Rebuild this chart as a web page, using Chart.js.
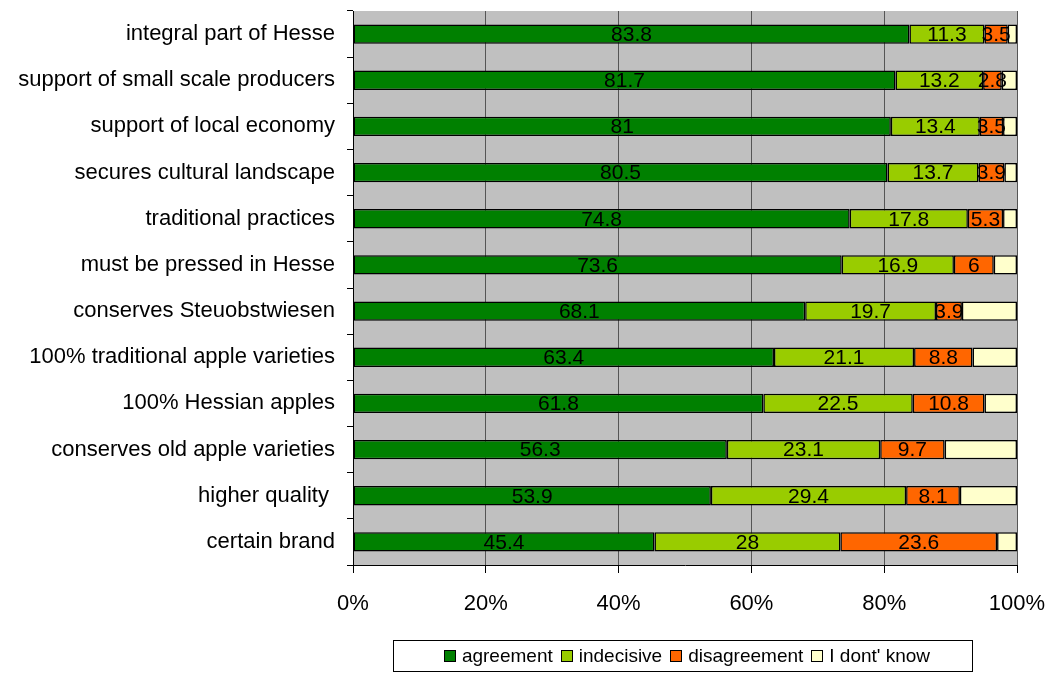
<!DOCTYPE html>
<html>
<head>
<meta charset="utf-8">
<script src="https://cdn.jsdelivr.net/npm/chart.js@4.4.1/dist/chart.umd.min.js"></script>
<style>
  html, body { margin: 0; padding: 0; background: #fff; }
  #wrap { position: relative; width: 1047px; height: 675px; }
  #legend {
    position: absolute; left: 393px; top: 640px; width: 580px; height: 32px;
    border: 1px solid #000; box-sizing: border-box;
    display: flex; align-items: center; justify-content: center;
    font-family: "Liberation Sans", Arial, sans-serif; font-size: 19px; color: #000;
  }
  #legend span.box {
    display: inline-block; width: 10px; height: 10px; border: 1px solid #000;
    margin: 0 6px 0 8px;
  }
</style>
</head>
<body>
<div id="wrap">
  <canvas id="chart" width="1047" height="675"></canvas>
  <div id="legend"></div>
</div>
<script>
const categories = [
    'integral part of Hesse',
    'support of small scale producers',
    'support of local economy',
    'secures cultural landscape',
    'traditional practices',
    'must be pressed in Hesse',
    'conserves Steuobstwiesen',
    '100% traditional apple varieties',
    '100% Hessian apples',
    'conserves old apple varieties',
    'higher quality ',
    'certain brand'
];
const agreement    = [83.8, 81.7, 81, 80.5, 74.8, 73.6, 68.1, 63.4, 61.8, 56.3, 53.9, 45.4];
const indecisive   = [11.3, 13.2, 13.4, 13.7, 17.8, 16.9, 19.7, 21.1, 22.5, 23.1, 29.4, 28];
const disagreement = [3.5, 2.8, 3.5, 3.9, 5.3, 6, 3.9, 8.8, 10.8, 9.7, 8.1, 23.6];
const dontKnow     = [1.4, 2.3, 2.1, 1.9, 2.1, 3.5, 8.3, 6.7, 4.9, 10.9, 8.6, 3.0];
const xTicks = [0, 20, 40, 60, 80, 100];

const fontFamily = '"Liberation Sans", Arial, sans-serif';

// grey plot background, drawn before grid lines
const plotBackground = {
    id: 'plotBackground',
    beforeDraw(chart) {
        const a = chart.chartArea;
        const ctx = chart.ctx;
        ctx.save();
        ctx.fillStyle = '#C0C0C0';
        ctx.fillRect(a.left, a.top, a.right - a.left, a.bottom - a.top);
        ctx.restore();
    }
};

// value labels in the middle of each segment (not for "I dont' know")
const segmentLabels = {
    id: 'segmentLabels',
    afterDatasetsDraw(chart) {
        const ctx = chart.ctx;
        ctx.save();
        ctx.font = '21px ' + fontFamily;
        ctx.fillStyle = '#000';
        ctx.textAlign = 'center';
        ctx.textBaseline = 'middle';
        chart.data.datasets.forEach((ds, i) => {
            if (i === 3) return;
            chart.getDatasetMeta(i).data.forEach((bar, j) => {
                const cx = (bar.x + bar.base) / 2;
                ctx.fillText(String(ds.data[j]), cx, bar.y + 1);
            });
        });
        ctx.restore();
    }
};

const chart = new Chart(document.getElementById('chart'), {
    type: 'bar',
    data: {
        labels: categories,
        datasets: [
            { label: 'agreement', data: agreement, backgroundColor: '#008000' },
            { label: 'indecisive', data: indecisive, backgroundColor: '#99CC00' },
            { label: 'disagreement', data: disagreement, backgroundColor: '#FF6600' },
            { label: "I dont' know", data: dontKnow, backgroundColor: '#FFFFCC' }
        ].map(d => Object.assign(d, {
            borderColor: '#000',
            borderWidth: 1.5,
            borderSkipped: false,
            barPercentage: 0.42,
            categoryPercentage: 1
        }))
    },
    options: {
        indexAxis: 'y',
        responsive: false,
        animation: false,
        devicePixelRatio: 1,
        layout: { padding: { top: 11, right: 30, left: 0, bottom: 0 } },
        plugins: {
            legend: { display: false },
            tooltip: { enabled: false }
        },
        scales: {
            x: {
                stacked: true,
                min: 0,
                max: 100,
                afterBuildTicks: scale => { scale.ticks = xTicks.map(v => ({ value: v })); },
                afterFit: scale => {
                    scale.height = 110;
                    scale.paddingLeft = 0;
                    scale.paddingRight = 0;
                },
                ticks: {
                    callback: v => v + '%',
                    color: '#000',
                    padding: 18,
                    maxRotation: 0,
                    font: { family: fontFamily, size: 22 }
                },
                grid: { color: '#555', tickColor: '#000', tickLength: 8 },
                border: { color: '#000', width: 1 }
            },
            y: {
                stacked: true,
                afterFit: scale => {
                    scale.width = 353;
                    scale.paddingTop = 0;
                    scale.paddingBottom = 0;
                },
                ticks: {
                    color: '#000',
                    padding: 12,
                    font: { family: fontFamily, size: 22 }
                },
                grid: { drawOnChartArea: false, tickColor: '#000', tickLength: 6 },
                border: { color: '#000', width: 1 }
            }
        }
    },
    plugins: [plotBackground, segmentLabels]
});

// legend from the chart's datasets
const legend = document.getElementById('legend');
chart.data.datasets.forEach(ds => {
    const box = document.createElement('span');
    box.className = 'box';
    box.style.background = ds.backgroundColor;
    const txt = document.createElement('span');
    txt.textContent = ds.label;
    legend.appendChild(box);
    legend.appendChild(txt);
});
</script>
</body>
</html>
